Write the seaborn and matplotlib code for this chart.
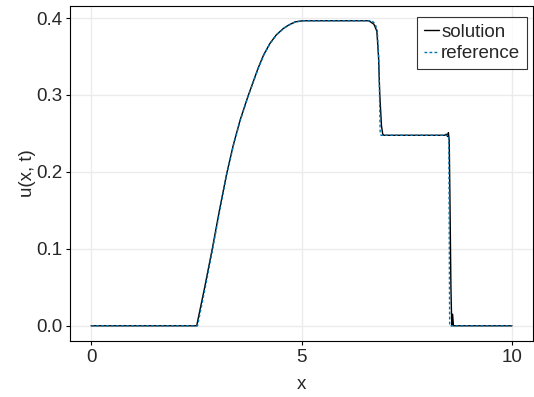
import numpy as np
import pandas as pd
import matplotlib
matplotlib.use("Agg")
import matplotlib.pyplot as plt
import seaborn as sns
from matplotlib.lines import Line2D

# --- data ---
x_solution = [0.0, 2.51, 2.70, 2.88, 3.05, 3.22, 3.38, 3.54, 3.72, 3.97, 4.10, 4.25, 4.40,
              4.57, 4.70, 4.85, 5.04, 6.60, 6.72, 6.79, 6.83, 6.86, 6.90, 6.93, 6.96,
              8.40, 8.44, 8.47, 8.49, 8.51, 8.53, 8.55, 8.57, 8.59, 8.61, 10.0]
u_solution = [0.0, 0.0, 0.05, 0.10, 0.15, 0.197, 0.235, 0.267, 0.297, 0.335, 0.352, 0.367, 0.378,
              0.3865, 0.391, 0.395, 0.3965, 0.3965, 0.392, 0.383, 0.35, 0.30, 0.26, 0.249, 0.2476,
              0.2476, 0.249, 0.246, 0.251, 0.24, 0.15, 0.05, 0.0, 0.015, 0.0, 0.0]

x_reference = [0.0, 2.53, 2.715, 2.89, 3.06, 3.225, 3.385, 3.545, 3.725, 3.975, 4.105, 4.255,
               4.405, 4.575, 4.705, 4.855, 5.04, 6.67, 6.74, 6.80, 6.84, 6.87, 6.89,
               8.50, 8.51, 8.52, 10.0]
u_reference = [0.0, 0.0, 0.05, 0.10, 0.15, 0.197, 0.235, 0.267, 0.297, 0.335, 0.352, 0.367,
               0.378, 0.3865, 0.391, 0.395, 0.3965, 0.3965, 0.393, 0.385, 0.34, 0.25, 0.2476,
               0.2476, 0.12, 0.0, 0.0]

x_ticks = [0, 5, 10]
y_ticks = [0.0, 0.1, 0.2, 0.3, 0.4]
y_ticklabels = ["0.0", "0.1", "0.2", "0.3", "0.4"]

sns.set_theme(style="white")
plt.rcParams["font.family"] = ["Liberation Sans", "DejaVu Sans"]

FS = 13.5
fig = plt.figure(figsize=(5.34, 3.97), dpi=100)
ax = fig.add_axes([70 / 534, 1 - 341 / 397, 463 / 534, 335.5 / 397])

sol = pd.DataFrame({"x": x_solution, "u": u_solution})
ref = pd.DataFrame({"x": x_reference, "u": u_reference})

sns.lineplot(data=sol, x="x", y="u", ax=ax, color="black", linewidth=1.0,
             sort=False, estimator=None, zorder=3)
sns.lineplot(data=ref, x="x", y="u", ax=ax, color="#0072B2", linewidth=1.0,
             sort=False, estimator=None, zorder=4)
ax.lines[-1].set_dashes([2.0, 1.6])

ax.set_xlim(-0.5, 10.5)
ax.set_ylim(-0.0198, 0.4163)
ax.set_xticks(x_ticks)
ax.set_yticks(y_ticks)
ax.set_yticklabels(y_ticklabels)
ax.grid(True, color="#ebebeb", linewidth=1.0)
ax.set_axisbelow(True)
for s in ax.spines.values():
    s.set_color("black")
    s.set_linewidth(0.8)
ax.tick_params(axis="both", direction="out", length=3.2, width=0.8, color="black",
               labelsize=FS, pad=2.5, left=True, bottom=True)
ax.set_xlabel("x", fontsize=FS, labelpad=7)
ax.set_ylabel("u(x, t)", fontsize=FS, labelpad=0)

handles = [Line2D([], [], color="black", linewidth=1.0),
           Line2D([], [], color="#0072B2", linewidth=1.0, dashes=[2.0, 1.6])]
leg = ax.legend(handles, ["solution", "reference"], loc="upper right",
                bbox_to_anchor=(0.9864, 0.965),
                fontsize=FS, frameon=True, fancybox=False, handlelength=0.8,
                handletextpad=0.12, borderpad=0.35, labelspacing=0.22,
                borderaxespad=0.0)
leg.get_frame().set_edgecolor("black")
leg.get_frame().set_linewidth(0.8)

fig.savefig("out.png", dpi=100)
